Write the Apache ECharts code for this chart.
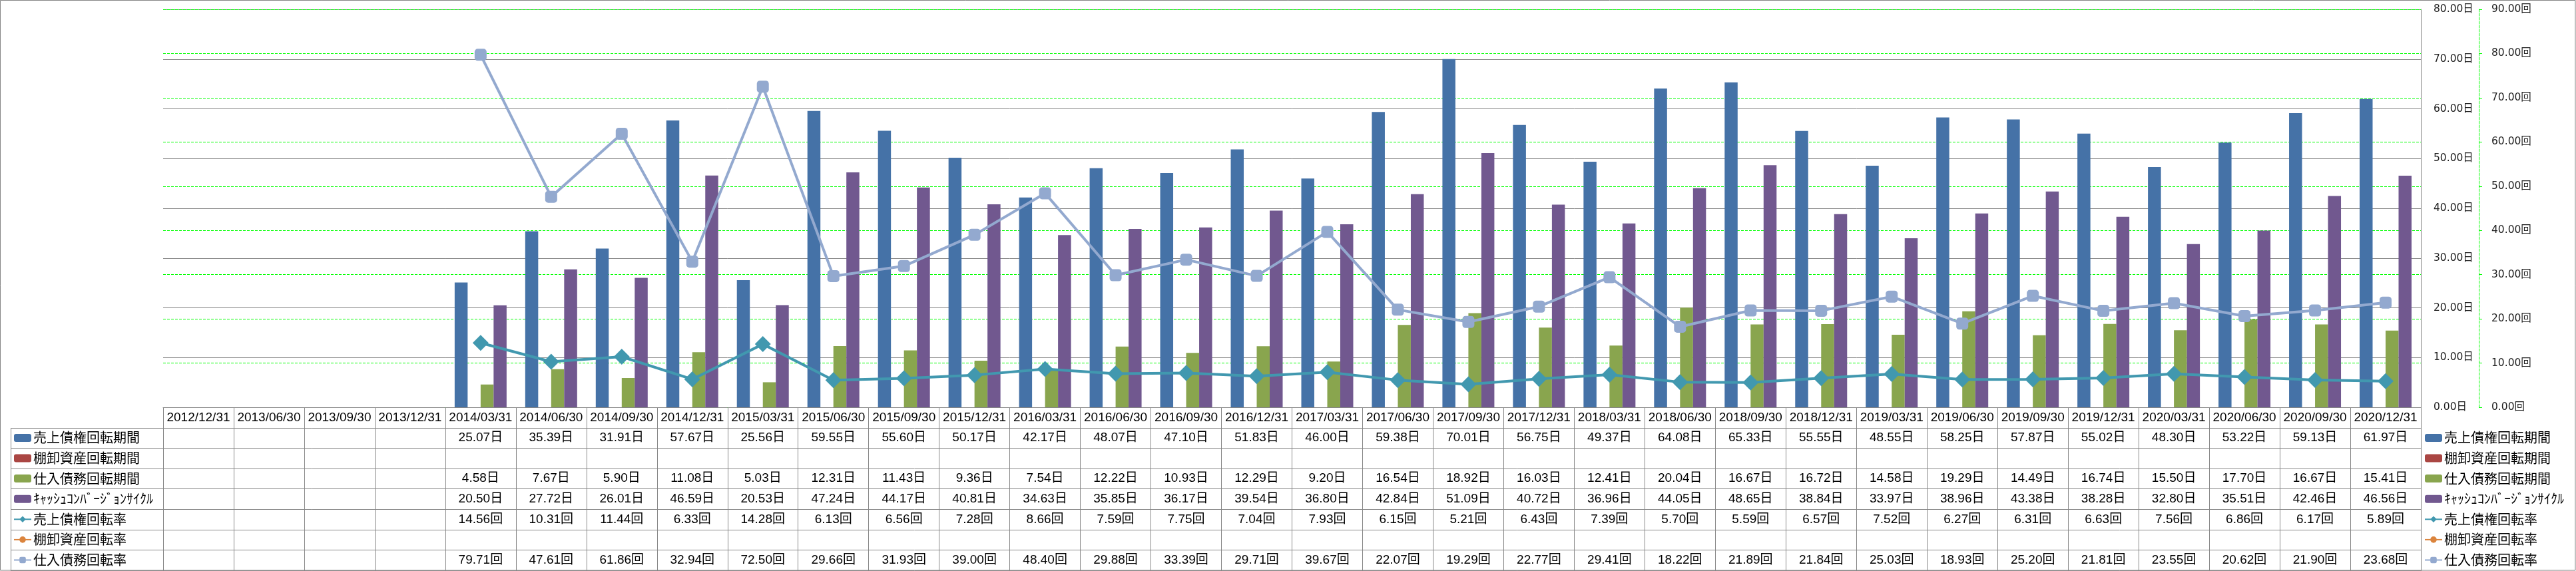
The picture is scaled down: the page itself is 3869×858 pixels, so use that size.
<!DOCTYPE html>
<html>
<head>
<meta charset="utf-8">
<script src="https://cdn.jsdelivr.net/npm/echarts@6/dist/echarts.min.js"></script>
<style>
html,body{margin:0;padding:0;background:#fff;}
#chart{width:3869px;height:858px;}
</style>
</head>
<body>
<div id="chart"></div>
<script>
// ---- data ----
const categories = ['2012/12/31','2013/06/30','2013/09/30','2013/12/31','2014/03/31','2014/06/30','2014/09/30','2014/12/31','2015/03/31','2015/06/30','2015/09/30','2015/12/31','2016/03/31','2016/06/30','2016/09/30','2016/12/31','2017/03/31','2017/06/30','2017/09/30','2017/12/31','2018/03/31','2018/06/30','2018/09/30','2018/12/31','2019/03/31','2019/06/30','2019/09/30','2019/12/31','2020/03/31','2020/06/30','2020/09/30','2020/12/31'];
const seriesNames = ['売上債権回転期間','棚卸資産回転期間','仕入債務回転期間','ｷｬｯｼｭｺﾝﾊﾞｰｼﾞｮﾝｻｲｸﾙ','売上債権回転率','棚卸資産回転率','仕入債務回転率'];
const receivableDays = [null,null,null,null,25.07,35.39,31.91,57.67,25.56,59.55,55.60,50.17,42.17,48.07,47.10,51.83,46.00,59.38,70.01,56.75,49.37,64.08,65.33,55.55,48.55,58.25,57.87,55.02,48.30,53.22,59.13,61.97];
const inventoryDays = [null,null,null,null,null,null,null,null,null,null,null,null,null,null,null,null,null,null,null,null,null,null,null,null,null,null,null,null,null,null,null,null];
const payableDays = [null,null,null,null,4.58,7.67,5.90,11.08,5.03,12.31,11.43,9.36,7.54,12.22,10.93,12.29,9.20,16.54,18.92,16.03,12.41,20.04,16.67,16.72,14.58,19.29,14.49,16.74,15.50,17.70,16.67,15.41];
const cccDays = [null,null,null,null,20.50,27.72,26.01,46.59,20.53,47.24,44.17,40.81,34.63,35.85,36.17,39.54,36.80,42.84,51.09,40.72,36.96,44.05,48.65,38.84,33.97,38.96,43.38,38.28,32.80,35.51,42.46,46.56];
const receivableTurnover = [null,null,null,null,14.56,10.31,11.44,6.33,14.28,6.13,6.56,7.28,8.66,7.59,7.75,7.04,7.93,6.15,5.21,6.43,7.39,5.70,5.59,6.57,7.52,6.27,6.31,6.63,7.56,6.86,6.17,5.89];
const inventoryTurnover = [null,null,null,null,null,null,null,null,null,null,null,null,null,null,null,null,null,null,null,null,null,null,null,null,null,null,null,null,null,null,null,null];
const payableTurnover = [null,null,null,null,79.71,47.61,61.86,32.94,72.50,29.66,31.93,39.00,48.40,29.88,33.39,29.71,39.67,22.07,19.29,22.77,29.41,18.22,21.89,21.84,25.03,18.93,25.20,21.81,23.55,20.62,21.90,23.68];
const dayUnit = '日';
const rateUnit = '回';
const leftTicks = {min:0, max:80, interval:10};
const rightTicks = {min:0, max:90, interval:10};

// ---- layout ----
const W = 3869, H = 858;
const PLOT_L = 245, PLOT_R = 3636, PLOT_T = 14, PLOT_B = 612;
const ROW_H = 30.6;
const TABLE_L = 16;
const GRAY = '#868686';
const GREEN = '#00ff00';
const colors = ['#4572a7','#aa4643','#89a54e','#71588f','#4198af','#db843d','#93a9cf'];

const fmt = (v, u) => (v == null ? '' : v.toFixed(2) + u);
const tableRows = [
  [receivableDays, dayUnit],
  [inventoryDays, dayUnit],
  [payableDays, dayUnit],
  [cccDays, dayUnit],
  [receivableTurnover, rateUnit],
  [inventoryTurnover, rateUnit],
  [payableTurnover, rateUnit]
];

const chart = echarts.init(document.getElementById('chart'), null, {renderer:'canvas'});

const graphics = [];
graphics.push({type:'rect', shape:{x:0.5,y:0.5,width:W-1.5,height:H-1.5}, style:{fill:null, stroke:GRAY, lineWidth:1}, silent:true});
for (let i = 1; i <= 8; i++) {
  const y = Math.round(PLOT_B + ROW_H * i) + 0.5;
  graphics.push({type:'line', shape:{x1:TABLE_L, y1:y, x2:PLOT_R, y2:y}, style:{stroke:GRAY, lineWidth:1}, silent:true});
}
graphics.push({type:'line', shape:{x1:TABLE_L+0.5, y1:Math.round(PLOT_B+ROW_H)+0.5, x2:TABLE_L+0.5, y2:H}, style:{stroke:GRAY, lineWidth:1}, silent:true});

const LEG_TEXT_H = 20;
const legendBase = {
  orient:'vertical', itemWidth:26, itemHeight:12, itemGap: ROW_H - LEG_TEXT_H,
  selectedMode:false, padding:0, height: ROW_H * 8, width: 240,
  textStyle:{fontFamily:'Noto Sans CJK JP', fontSize:20, lineHeight:LEG_TEXT_H, color:'#000', padding:[0,0,0,-2]},
  data: seriesNames
};

const barBase = {type:'bar', yAxisIndex:0, barGap:'0%', barCategoryGap:'26.4%'};
const option = {
  animation:false,
  backgroundColor:'#fff',
  textStyle:{fontFamily:'Liberation Sans, Noto Sans CJK JP'},
  grid:{left:PLOT_L, right:W-PLOT_R, top:PLOT_T, bottom:H-PLOT_B, containLabel:false},
  legend:[
    Object.assign({left:20, top:PLOT_B + ROW_H*1.5 - LEG_TEXT_H/2}, legendBase),
    Object.assign({left:3641, top:PLOT_B + ROW_H*1.5 - LEG_TEXT_H/2}, legendBase)
  ],
  xAxis:{
    type:'category', data:categories, boundaryGap:true,
    axisLine:{show:true, lineStyle:{color:GRAY, width:1}},
    axisTick:{show:true, interval:0, length:H-PLOT_B, lineStyle:{color:GRAY, width:1}},
    axisLabel:{
      interval:0, margin:0, verticalAlign:'top', lineHeight:ROW_H,
      fontFamily:'Liberation Sans, Noto Sans CJK JP', fontSize:19, color:'#000',
      formatter:function(value, idx){
        const lines = [value];
        tableRows.forEach(r => lines.push(fmt(r[0][idx], r[1])));
        return lines.join('\n');
      }
    },
    splitLine:{show:false}
  },
  yAxis:[
    {
      type:'value', position:'right', min:leftTicks.min, max:leftTicks.max, interval:leftTicks.interval,
      axisLine:{show:true, lineStyle:{color:GRAY, width:1}},
      axisTick:{show:false},
      axisLabel:{margin:19, align:'left', fontFamily:'DejaVu Sans, Noto Sans CJK JP', fontSize:15.5, color:'#222',
        formatter:v => v.toFixed(2) + dayUnit},
      splitLine:{show:true, lineStyle:{color:GRAY, width:1}}
    },
    {
      type:'value', position:'right', offset:87, min:rightTicks.min, max:rightTicks.max, interval:rightTicks.interval,
      axisLine:{show:true, lineStyle:{color:GREEN, width:1, type:[4,2]}},
      axisTick:{show:true, length:5, lineStyle:{color:GREEN, width:1}},
      axisLabel:{margin:19, align:'left', fontFamily:'DejaVu Sans, Noto Sans CJK JP', fontSize:15.5, color:'#222',
        formatter:v => v.toFixed(2) + rateUnit},
      splitLine:{show:true, lineStyle:{color:GREEN, width:1, type:[4,2]}}
    }
  ],
  graphic: graphics,
  series:[
    Object.assign({name:seriesNames[0], data:receivableDays, itemStyle:{color:colors[0]}}, barBase),
    Object.assign({name:seriesNames[1], data:inventoryDays, itemStyle:{color:colors[1]}}, barBase),
    Object.assign({name:seriesNames[2], data:payableDays, itemStyle:{color:colors[2]}}, barBase),
    Object.assign({name:seriesNames[3], data:cccDays, itemStyle:{color:colors[3]}}, barBase),
    {type:'line', name:seriesNames[4], yAxisIndex:1, data:receivableTurnover, symbol:'diamond', symbolSize:24,
      lineStyle:{color:colors[4], width:4}, itemStyle:{color:colors[4]}, z:5},
    {type:'line', name:seriesNames[5], yAxisIndex:1, data:inventoryTurnover, symbol:'circle', symbolSize:16,
      lineStyle:{color:colors[5], width:4}, itemStyle:{color:colors[5]}, z:5},
    {type:'line', name:seriesNames[6], yAxisIndex:1, data:payableTurnover, symbol:'roundRect', symbolSize:18,
      lineStyle:{color:colors[6], width:4}, itemStyle:{color:colors[6]}, z:5}
  ]
};
chart.setOption(option);
</script>
</body>
</html>
